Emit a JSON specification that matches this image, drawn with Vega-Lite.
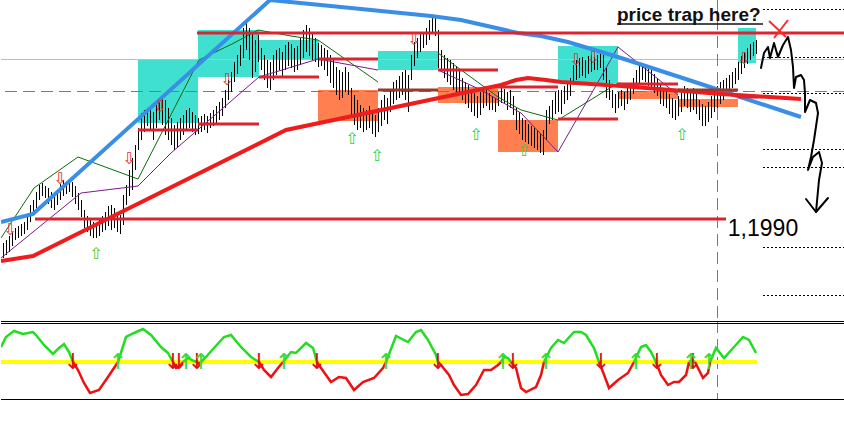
{
"$schema":"https://vega.github.io/schema/vega-lite/v6.json",
"background":"white",
"padding":0,
"spacing":1,
"config":{"view":{"stroke":null},"axis":{"disable":true},"legend":{"disable":true}},
"resolve":{"scale":{"x":"independent","y":"independent","color":"independent"}},
"datasets":{
"bars":[
{"t":2,"h":1.1966,"l":1.1951},{"t":5,"h":1.1969,"l":1.1954},{"t":8,"h":1.1973,"l":1.1957},{"t":11,"h":1.1977,"l":1.1963},{"t":14,"h":1.1981,"l":1.1969},{"t":17,"h":1.1983,"l":1.1971},{"t":20,"h":1.1985,"l":1.1973},{"t":23,"h":1.1987,"l":1.1975},{"t":26,"h":1.1994,"l":1.1979},{"t":29,"h":1.2004,"l":1.1987},
{"t":32,"h":1.2009,"l":1.1995},{"t":35,"h":1.2017,"l":1.2001},{"t":38,"h":1.2024,"l":1.2009},{"t":41,"h":1.2026,"l":1.2013},{"t":44,"h":1.2023,"l":1.2011},{"t":47,"h":1.2021,"l":1.2005},{"t":50,"h":1.2017,"l":1.2001},{"t":53,"h":1.2014,"l":1.1999},{"t":56,"h":1.2019,"l":1.2004},{"t":59,"h":1.2025,"l":1.2009},
{"t":62,"h":1.2029,"l":1.2013},{"t":65,"h":1.2027,"l":1.2015},{"t":68,"h":1.2029,"l":1.2017},{"t":71,"h":1.2027,"l":1.2012},{"t":74,"h":1.2023,"l":1.2005},{"t":77,"h":1.2016,"l":1.1999},{"t":80,"h":1.2009,"l":1.1992},{"t":83,"h":1.1999,"l":1.1981},{"t":86,"h":1.1993,"l":1.1977},{"t":89,"h":1.1989,"l":1.1973},
{"t":92,"h":1.1987,"l":1.1971},{"t":95,"h":1.1985,"l":1.1971},{"t":98,"h":1.1989,"l":1.1973},{"t":101,"h":1.1993,"l":1.1977},{"t":104,"h":1.1997,"l":1.1979},{"t":107,"h":1.2003,"l":1.1983},{"t":110,"h":1.2004,"l":1.1979},{"t":113,"h":1.2001,"l":1.1981},{"t":116,"h":1.1997,"l":1.1977},{"t":119,"h":1.1994,"l":1.1975},
{"t":122,"h":1.2014,"l":1.1984},{"t":125,"h":1.2024,"l":1.2004},{"t":128,"h":1.2039,"l":1.2013},{"t":131,"h":1.2051,"l":1.2019},{"t":134,"h":1.2064,"l":1.2039},{"t":137,"h":1.2081,"l":1.2059},{"t":140,"h":1.2096,"l":1.2069},{"t":143,"h":1.2099,"l":1.2077},{"t":146,"h":1.2101,"l":1.2083},{"t":149,"h":1.2103,"l":1.2079},
{"t":152,"h":1.2097,"l":1.2069},{"t":155,"h":1.2104,"l":1.2081},{"t":158,"h":1.2109,"l":1.2089},{"t":161,"h":1.2111,"l":1.2084},{"t":164,"h":1.2109,"l":1.2074},{"t":167,"h":1.2101,"l":1.2069},{"t":170,"h":1.2091,"l":1.2064},{"t":173,"h":1.2084,"l":1.2059},{"t":176,"h":1.2087,"l":1.2061},{"t":179,"h":1.2091,"l":1.2069},
{"t":182,"h":1.2094,"l":1.2074},{"t":185,"h":1.2099,"l":1.2079},{"t":188,"h":1.2101,"l":1.2081},{"t":191,"h":1.2097,"l":1.2077},{"t":194,"h":1.2094,"l":1.2074},{"t":197,"h":1.2091,"l":1.2075},{"t":200,"h":1.2093,"l":1.2077},{"t":203,"h":1.2095,"l":1.2079},{"t":206,"h":1.2093,"l":1.2076},{"t":209,"h":1.2096,"l":1.2081},
{"t":212,"h":1.2099,"l":1.2083},{"t":215,"h":1.2103,"l":1.2085},{"t":218,"h":1.2107,"l":1.2089},{"t":221,"h":1.2111,"l":1.2093},{"t":224,"h":1.2119,"l":1.2101},{"t":227,"h":1.2129,"l":1.2109},{"t":230,"h":1.2137,"l":1.2117},{"t":233,"h":1.2147,"l":1.2127},{"t":236,"h":1.2154,"l":1.2135},{"t":239,"h":1.2164,"l":1.2143},
{"t":242,"h":1.2181,"l":1.2151},{"t":245,"h":1.2189,"l":1.2159},{"t":248,"h":1.2181,"l":1.2149},{"t":251,"h":1.2176,"l":1.2131},{"t":254,"h":1.2169,"l":1.2137},{"t":257,"h":1.2174,"l":1.2147},{"t":260,"h":1.2161,"l":1.2139},{"t":263,"h":1.2154,"l":1.2129},{"t":266,"h":1.2149,"l":1.2121},{"t":269,"h":1.2147,"l":1.2119},
{"t":272,"h":1.2154,"l":1.2129},{"t":275,"h":1.2159,"l":1.2134},{"t":278,"h":1.2161,"l":1.2139},{"t":281,"h":1.2157,"l":1.2133},{"t":284,"h":1.2164,"l":1.2139},{"t":287,"h":1.2167,"l":1.2143},{"t":290,"h":1.2165,"l":1.2141},{"t":293,"h":1.2161,"l":1.2137},{"t":296,"h":1.2163,"l":1.2139},{"t":299,"h":1.2171,"l":1.2144},
{"t":302,"h":1.2179,"l":1.2151},{"t":305,"h":1.2184,"l":1.2157},{"t":308,"h":1.2181,"l":1.2153},{"t":311,"h":1.2177,"l":1.2149},{"t":314,"h":1.2171,"l":1.2147},{"t":317,"h":1.2166,"l":1.2142},{"t":320,"h":1.2164,"l":1.2143},{"t":323,"h":1.2161,"l":1.2139},{"t":326,"h":1.2159,"l":1.2133},{"t":329,"h":1.2154,"l":1.2126},
{"t":332,"h":1.2149,"l":1.2121},{"t":335,"h":1.2142,"l":1.2114},{"t":338,"h":1.2139,"l":1.2109},{"t":341,"h":1.2137,"l":1.2111},{"t":344,"h":1.2142,"l":1.2117},{"t":347,"h":1.2137,"l":1.2114},{"t":350,"h":1.2121,"l":1.2094},{"t":353,"h":1.2114,"l":1.2084},{"t":356,"h":1.2109,"l":1.2079},{"t":359,"h":1.2104,"l":1.2081},
{"t":362,"h":1.2101,"l":1.2077},{"t":365,"h":1.2099,"l":1.2079},{"t":368,"h":1.2103,"l":1.2081},{"t":371,"h":1.2097,"l":1.2075},{"t":374,"h":1.2094,"l":1.2072},{"t":377,"h":1.2101,"l":1.2077},{"t":380,"h":1.2109,"l":1.2083},{"t":383,"h":1.2114,"l":1.2089},{"t":386,"h":1.2111,"l":1.2085},{"t":389,"h":1.2119,"l":1.2097},
{"t":392,"h":1.2127,"l":1.2105},{"t":395,"h":1.2129,"l":1.2109},{"t":398,"h":1.2133,"l":1.2111},{"t":401,"h":1.2137,"l":1.2114},{"t":404,"h":1.2139,"l":1.2109},{"t":407,"h":1.2134,"l":1.2097},{"t":410,"h":1.2154,"l":1.2129},{"t":413,"h":1.2167,"l":1.2143},{"t":416,"h":1.2171,"l":1.2151},{"t":419,"h":1.2175,"l":1.2157},
{"t":422,"h":1.2177,"l":1.2161},{"t":425,"h":1.2181,"l":1.2164},{"t":428,"h":1.2189,"l":1.2169},{"t":431,"h":1.2194,"l":1.2177},{"t":434,"h":1.2191,"l":1.2173},{"t":437,"h":1.2179,"l":1.2141},{"t":440,"h":1.2159,"l":1.2137},{"t":443,"h":1.2154,"l":1.2131},{"t":446,"h":1.2151,"l":1.2127},{"t":449,"h":1.2149,"l":1.2124},
{"t":452,"h":1.2146,"l":1.2119},{"t":455,"h":1.2143,"l":1.2117},{"t":458,"h":1.2139,"l":1.2114},{"t":461,"h":1.2131,"l":1.2109},{"t":464,"h":1.2127,"l":1.2105},{"t":467,"h":1.2124,"l":1.2101},{"t":470,"h":1.2119,"l":1.2097},{"t":473,"h":1.2116,"l":1.2093},{"t":476,"h":1.2113,"l":1.2091},{"t":479,"h":1.2117,"l":1.2094},
{"t":482,"h":1.2121,"l":1.2101},{"t":485,"h":1.2119,"l":1.2103},{"t":488,"h":1.2116,"l":1.2099},{"t":491,"h":1.2113,"l":1.2099},{"t":494,"h":1.2111,"l":1.2097},{"t":497,"h":1.2117,"l":1.2103},{"t":500,"h":1.2121,"l":1.2106},{"t":503,"h":1.2120,"l":1.2105},{"t":506,"h":1.2117,"l":1.2099},{"t":509,"h":1.2119,"l":1.2101},
{"t":512,"h":1.2113,"l":1.2094},{"t":515,"h":1.2101,"l":1.2079},{"t":518,"h":1.2097,"l":1.2075},{"t":521,"h":1.2091,"l":1.2069},{"t":524,"h":1.2089,"l":1.2067},{"t":527,"h":1.2085,"l":1.2065},{"t":530,"h":1.2083,"l":1.2063},{"t":533,"h":1.2081,"l":1.2061},{"t":536,"h":1.2079,"l":1.2059},{"t":539,"h":1.2075,"l":1.2056},
{"t":542,"h":1.2079,"l":1.2054},{"t":545,"h":1.2099,"l":1.2069},{"t":548,"h":1.2103,"l":1.2085},{"t":551,"h":1.2109,"l":1.2089},{"t":554,"h":1.2117,"l":1.2095},{"t":557,"h":1.2119,"l":1.2097},{"t":560,"h":1.2119,"l":1.2095},{"t":563,"h":1.2123,"l":1.2105},{"t":566,"h":1.2125,"l":1.2109},{"t":569,"h":1.2131,"l":1.2113},
{"t":572,"h":1.2144,"l":1.2124},{"t":575,"h":1.2149,"l":1.2129},{"t":578,"h":1.2151,"l":1.2131},{"t":581,"h":1.2152,"l":1.2133},{"t":584,"h":1.2149,"l":1.2131},{"t":587,"h":1.2153,"l":1.2135},{"t":590,"h":1.2154,"l":1.2137},{"t":593,"h":1.2152,"l":1.2139},{"t":596,"h":1.2154,"l":1.2139},{"t":599,"h":1.2156,"l":1.2141},
{"t":602,"h":1.2154,"l":1.2129},{"t":605,"h":1.2141,"l":1.2111},{"t":608,"h":1.2129,"l":1.2109},{"t":611,"h":1.2119,"l":1.2101},{"t":614,"h":1.2115,"l":1.2096},{"t":617,"h":1.2117,"l":1.2101},{"t":620,"h":1.2119,"l":1.2103},{"t":623,"h":1.2117,"l":1.2099},{"t":626,"h":1.2121,"l":1.2105},{"t":629,"h":1.2125,"l":1.2109},
{"t":632,"h":1.2131,"l":1.2115},{"t":635,"h":1.2139,"l":1.2121},{"t":638,"h":1.2143,"l":1.2125},{"t":641,"h":1.2146,"l":1.2129},{"t":644,"h":1.2145,"l":1.2127},{"t":647,"h":1.2141,"l":1.2123},{"t":650,"h":1.2139,"l":1.2119},{"t":653,"h":1.2135,"l":1.2116},{"t":656,"h":1.2131,"l":1.2113},{"t":659,"h":1.2125,"l":1.2105},
{"t":662,"h":1.2121,"l":1.2103},{"t":665,"h":1.2119,"l":1.2101},{"t":668,"h":1.2115,"l":1.2095},{"t":671,"h":1.2111,"l":1.2091},{"t":674,"h":1.2109,"l":1.2089},{"t":677,"h":1.2113,"l":1.2093},{"t":680,"h":1.2119,"l":1.2097},{"t":683,"h":1.2123,"l":1.2103},{"t":686,"h":1.2121,"l":1.2101},{"t":689,"h":1.2119,"l":1.2097},
{"t":692,"h":1.2121,"l":1.2099},{"t":695,"h":1.2117,"l":1.2095},{"t":698,"h":1.2109,"l":1.2089},{"t":701,"h":1.2105,"l":1.2083},{"t":704,"h":1.2103,"l":1.2083},{"t":707,"h":1.2107,"l":1.2087},{"t":710,"h":1.2113,"l":1.2091},{"t":713,"h":1.2119,"l":1.2097},{"t":716,"h":1.2123,"l":1.2101},{"t":719,"h":1.2127,"l":1.2105},
{"t":722,"h":1.2129,"l":1.2109},{"t":725,"h":1.2131,"l":1.2113},{"t":728,"h":1.2134,"l":1.2117},{"t":731,"h":1.2137,"l":1.2121},{"t":734,"h":1.2141,"l":1.2125},{"t":737,"h":1.2147,"l":1.2129},{"t":740,"h":1.2153,"l":1.2135},{"t":743,"h":1.2157,"l":1.2141},{"t":746,"h":1.2161,"l":1.2145},{"t":749,"h":1.2165,"l":1.2149},
{"t":752,"h":1.2167,"l":1.2153},{"t":755,"h":1.2169,"l":1.2155}
],
"cyan":[{"t1":137,"t2":197,"p1":1.2150,"p2":1.2086},{"t1":197,"t2":258,"p1":1.2179,"p2":1.2132},{"t1":258,"t2":318,"p1":1.2169,"p2":1.2150},{"t1":377,"t2":437,"p1":1.2158,"p2":1.2139},{"t1":557,"t2":617,"p1":1.2163,"p2":1.2126},{"t1":737,"t2":755,"p1":1.2181,"p2":1.2146}],
"orange":[{"t1":317,"t2":377,"p1":1.2119,"p2":1.2088},{"t1":437,"t2":497,"p1":1.2122,"p2":1.2106},{"t1":497,"t2":557,"p1":1.2089,"p2":1.2057},{"t1":617,"t2":677,"p1":1.2118,"p2":1.2110},{"t1":677,"t2":737,"p1":1.2110,"p2":1.2102}],
"dots":[{"t1":762,"t2":844,"p":1.2200},{"t1":762,"t2":844,"p":1.2152},{"t1":762,"t2":844,"p":1.2116},{"t1":762,"t2":844,"p":1.2060},{"t1":762,"t2":844,"p":1.2042},{"t1":762,"t2":844,"p":1.1962},{"t1":762,"t2":844,"p":1.1914}],
"vline":[{"t":716}],
"redshort":[{"t1":137,"t2":197,"p":1.2079},{"t1":197,"t2":258,"p":1.2085},{"t1":258,"t2":318,"p":1.2132},{"t1":318,"t2":377,"p":1.2150},{"t1":437,"t2":497,"p":1.2139},{"t1":497,"t2":557,"p":1.2122},{"t1":557,"t2":617,"p":1.2090},{"t1":617,"t2":677,"p":1.2125},{"t1":737,"t2":757,"p":1.2112}],
"brown":[{"t1":377,"t2":437,"p":1.2119},{"t1":677,"t2":737,"p":1.2119}],
"redlong":[{"t1":196,"t2":844,"p":1.2176},{"t1":34,"t2":725,"p":1.1990}],
"trend":[{"t":0,"p":1.1948},{"t":32,"p":1.1953},{"t":285,"p":1.2079},{"t":500,"p":1.2124},{"t":515,"p":1.2129},{"t":527,"p":1.2131},{"t":545,"p":1.2129},{"t":560,"p":1.2127},{"t":620,"p":1.2123},{"t":720,"p":1.2115},{"t":800,"p":1.2110}],
"blue":[{"t":0,"p":1.1987},{"t":32,"p":1.1995},{"t":269,"p":1.2209},{"t":350,"p":1.2201},{"t":430,"p":1.2193},{"t":460,"p":1.2189},{"t":517,"p":1.2176},{"t":540,"p":1.2173},{"t":567,"p":1.2167},{"t":617,"p":1.2152},{"t":700,"p":1.2125},{"t":800,"p":1.2092}],
"green":[{"s":1,"t":0,"p":1.1971},{"s":1,"t":33,"p":1.2021},{"s":1,"t":77,"p":1.2052},{"s":1,"t":137,"p":1.2030},{"s":1,"t":157,"p":1.2069},{"s":1,"t":198,"p":1.2149},{"s":1,"t":233,"p":1.2166},{"s":1,"t":257,"p":1.2179},{"s":1,"t":290,"p":1.2173},{"s":1,"t":317,"p":1.2169},{"s":1,"t":377,"p":1.2127},
{"s":2,"t":437,"p":1.2156},{"s":2,"t":497,"p":1.2112},{"s":2,"t":520,"p":1.2099},{"s":2,"t":557,"p":1.2089},{"s":2,"t":617,"p":1.2126},{"s":2,"t":677,"p":1.2117}],
"purple":[{"s":1,"t":0,"p":1.1951},{"s":1,"t":80,"p":1.2016},{"s":1,"t":137,"p":1.2023},{"s":1,"t":170,"p":1.2056},{"s":1,"t":258,"p":1.2132},{"s":1,"t":317,"p":1.2150},{"s":1,"t":377,"p":1.2139},
{"s":2,"t":437,"p":1.2139},{"s":2,"t":480,"p":1.2119},{"s":2,"t":520,"p":1.2096},{"s":2,"t":557,"p":1.2057},{"s":2,"t":617,"p":1.2162},{"s":2,"t":677,"p":1.2114}],
"downArrows":[{"t":9,"p":1.1979},{"t":59,"p":1.2030},{"t":128,"p":1.2050},{"t":159,"p":1.2102},{"t":226,"p":1.2129},{"t":413,"p":1.2169},{"t":575,"p":1.2149},{"t":592,"p":1.2151},{"t":743,"p":1.2150}],
"upArrows":[{"t":95,"p":1.1955},{"t":351,"p":1.2070},{"t":376,"p":1.2053},{"t":475,"p":1.2074},{"t":523,"p":1.2058},{"t":681,"p":1.2074}],
"hand":[{"s":1,"o":1,"t":760,"p":1.2141},{"s":1,"o":2,"t":763,"p":1.2156},{"s":1,"o":3,"t":767,"p":1.2162},{"s":1,"o":4,"t":769,"p":1.2151},{"s":1,"o":5,"t":773,"p":1.2166},{"s":1,"o":6,"t":777,"p":1.2152},{"s":1,"o":7,"t":782,"p":1.2164},{"s":1,"o":8,"t":787,"p":1.2172},{"s":1,"o":9,"t":790,"p":1.2159},{"s":1,"o":10,"t":792,"p":1.2142},{"s":1,"o":11,"t":793,"p":1.2121},{"s":1,"o":12,"t":795,"p":1.2132},{"s":1,"o":13,"t":800,"p":1.2134},{"s":1,"o":14,"t":803,"p":1.2129},{"s":1,"o":15,"t":804,"p":1.2116},{"s":1,"o":16,"t":804,"p":1.2097},{"s":1,"o":17,"t":809,"p":1.2109},{"s":1,"o":18,"t":815,"p":1.2106},{"s":1,"o":19,"t":817,"p":1.2096},{"s":1,"o":20,"t":813,"p":1.2069},{"s":1,"o":21,"t":810,"p":1.2052},{"s":1,"o":22,"t":807,"p":1.2039},{"s":1,"o":23,"t":812,"p":1.2052},{"s":1,"o":24,"t":818,"p":1.2057},{"s":1,"o":25,"t":821,"p":1.2046},{"s":1,"o":26,"t":818,"p":1.2029},{"s":1,"o":27,"t":815,"p":1.1997},
{"s":2,"o":1,"t":805,"p":1.2010},{"s":2,"o":2,"t":815,"p":1.1997},{"s":2,"o":3,"t":827,"p":1.2011}],
"xmark":[{"t1":768,"p1":1.2188,"t2":785,"p2":1.2172},{"t1":787,"p1":1.2189,"t2":773,"p2":1.2171}],
"underline":[{"t1":616,"t2":762,"p":1.2185}],
"title":[{"t":616,"p":1.2188,"label":"price trap here?"}],
"note":[{"t":762,"p":1.1980,"label":"1,1990"}],
"frame":[{"v":41},{"v":39},{"v":-37}],
"zero":[{"t1":0,"t2":756,"v":0}],
"osc":[
{"s":1,"z":"up","t":0,"v":15},{"s":1,"z":"up","t":5,"v":25},{"s":1,"z":"up","t":13,"v":31},{"s":1,"z":"up","t":22,"v":28},{"s":1,"z":"up","t":32,"v":30},{"s":1,"z":"up","t":35,"v":27},{"s":1,"z":"up","t":43,"v":17},{"s":1,"z":"up","t":52,"v":8},{"s":1,"z":"up","t":58,"v":14},{"s":1,"z":"up","t":63,"v":18},{"s":1,"z":"up","t":68,"v":10},{"s":1,"z":"up","t":72,"v":0},
{"s":2,"z":"dn","t":72,"v":0},{"s":2,"z":"dn","t":77,"v":-8},{"s":2,"z":"dn","t":83,"v":-21},{"s":2,"z":"dn","t":89,"v":-31},{"s":2,"z":"dn","t":98,"v":-28},{"s":2,"z":"dn","t":107,"v":-15},{"s":2,"z":"dn","t":115,"v":-3},{"s":2,"z":"dn","t":117,"v":0},
{"s":3,"z":"up","t":117,"v":0},{"s":3,"z":"up","t":125,"v":25},{"s":3,"z":"up","t":133,"v":29},{"s":3,"z":"up","t":142,"v":33},{"s":3,"z":"up","t":150,"v":27},{"s":3,"z":"up","t":160,"v":15},{"s":3,"z":"up","t":167,"v":9},{"s":3,"z":"up","t":172,"v":0},
{"s":4,"z":"dn","t":172,"v":0},{"s":4,"z":"dn","t":175,"v":-6},{"s":4,"z":"dn","t":178,"v":-5},{"s":4,"z":"dn","t":182,"v":0},
{"s":5,"z":"up","t":182,"v":0},{"s":5,"z":"up","t":187,"v":4},{"s":5,"z":"up","t":193,"v":1},{"s":5,"z":"up","t":196,"v":0},
{"s":6,"z":"dn","t":196,"v":0},{"s":6,"z":"dn","t":198,"v":-2},{"s":6,"z":"dn","t":200,"v":0},
{"s":7,"z":"up","t":200,"v":0},{"s":7,"z":"up","t":205,"v":5},{"s":7,"z":"up","t":213,"v":14},{"s":7,"z":"up","t":223,"v":25},{"s":7,"z":"up","t":230,"v":27},{"s":7,"z":"up","t":240,"v":15},{"s":7,"z":"up","t":250,"v":5},{"s":7,"z":"up","t":258,"v":0},
{"s":8,"z":"dn","t":258,"v":0},{"s":8,"z":"dn","t":263,"v":-8},{"s":8,"z":"dn","t":270,"v":-15},{"s":8,"z":"dn","t":277,"v":-6},{"s":8,"z":"dn","t":282,"v":0},
{"s":9,"z":"up","t":282,"v":0},{"s":9,"z":"up","t":290,"v":10},{"s":9,"z":"up","t":295,"v":9},{"s":9,"z":"up","t":305,"v":19},{"s":9,"z":"up","t":312,"v":14},{"s":9,"z":"up","t":316,"v":0},
{"s":10,"z":"dn","t":316,"v":0},{"s":10,"z":"dn","t":320,"v":-6},{"s":10,"z":"dn","t":330,"v":-20},{"s":10,"z":"dn","t":338,"v":-15},{"s":10,"z":"dn","t":345,"v":-16},{"s":10,"z":"dn","t":353,"v":-28},{"s":10,"z":"dn","t":362,"v":-20},{"s":10,"z":"dn","t":373,"v":-16},{"s":10,"z":"dn","t":382,"v":-6},{"s":10,"z":"dn","t":385,"v":0},
{"s":11,"z":"up","t":385,"v":0},{"s":11,"z":"up","t":395,"v":26},{"s":11,"z":"up","t":407,"v":20},{"s":11,"z":"up","t":415,"v":30},{"s":11,"z":"up","t":420,"v":32},{"s":11,"z":"up","t":427,"v":22},{"s":11,"z":"up","t":435,"v":7},{"s":11,"z":"up","t":437,"v":0},
{"s":12,"z":"dn","t":437,"v":0},{"s":12,"z":"dn","t":440,"v":-3},{"s":12,"z":"dn","t":448,"v":-13},{"s":12,"z":"dn","t":453,"v":-23},{"s":12,"z":"dn","t":460,"v":-33},{"s":12,"z":"dn","t":467,"v":-32},{"s":12,"z":"dn","t":475,"v":-23},{"s":12,"z":"dn","t":483,"v":-8},{"s":12,"z":"dn","t":490,"v":-8},{"s":12,"z":"dn","t":497,"v":-3},{"s":12,"z":"dn","t":500,"v":0},
{"s":13,"z":"up","t":500,"v":0},{"s":13,"z":"up","t":503,"v":5},{"s":13,"z":"up","t":507,"v":4},{"s":13,"z":"up","t":510,"v":0},
{"s":14,"z":"dn","t":510,"v":0},{"s":14,"z":"dn","t":515,"v":-6},{"s":14,"z":"dn","t":520,"v":-26},{"s":14,"z":"dn","t":525,"v":-30},{"s":14,"z":"dn","t":535,"v":-25},{"s":14,"z":"dn","t":540,"v":-13},{"s":14,"z":"dn","t":543,"v":0},
{"s":15,"z":"up","t":543,"v":0},{"s":15,"z":"up","t":550,"v":14},{"s":15,"z":"up","t":557,"v":22},{"s":15,"z":"up","t":563,"v":19},{"s":15,"z":"up","t":573,"v":30},{"s":15,"z":"up","t":580,"v":30},{"s":15,"z":"up","t":585,"v":27},{"s":15,"z":"up","t":593,"v":14},{"s":15,"z":"up","t":598,"v":0},
{"s":16,"z":"dn","t":598,"v":0},{"s":16,"z":"dn","t":602,"v":-10},{"s":16,"z":"dn","t":608,"v":-26},{"s":16,"z":"dn","t":617,"v":-18},{"s":16,"z":"dn","t":627,"v":-11},{"s":16,"z":"dn","t":633,"v":0},
{"s":17,"z":"up","t":633,"v":0},{"s":17,"z":"up","t":640,"v":15},{"s":17,"z":"up","t":645,"v":17},{"s":17,"z":"up","t":650,"v":10},{"s":17,"z":"up","t":655,"v":0},
{"s":18,"z":"dn","t":655,"v":0},{"s":18,"z":"dn","t":660,"v":-13},{"s":18,"z":"dn","t":667,"v":-23},{"s":18,"z":"dn","t":673,"v":-20},{"s":18,"z":"dn","t":678,"v":-20},{"s":18,"z":"dn","t":685,"v":-13},{"s":18,"z":"dn","t":688,"v":0},
{"s":19,"z":"up","t":688,"v":0},{"s":19,"z":"up","t":691,"v":2},{"s":19,"z":"up","t":694,"v":0},
{"s":20,"z":"dn","t":694,"v":0},{"s":20,"z":"dn","t":697,"v":-6},{"s":20,"z":"dn","t":702,"v":-16},{"s":20,"z":"dn","t":707,"v":-11},{"s":20,"z":"dn","t":709,"v":0},
{"s":21,"z":"up","t":709,"v":0},{"s":21,"z":"up","t":715,"v":14},{"s":21,"z":"up","t":723,"v":4},{"s":21,"z":"up","t":733,"v":15},{"s":21,"z":"up","t":742,"v":25},{"s":21,"z":"up","t":748,"v":22},{"s":21,"z":"up","t":755,"v":9}
],
"oscDown":[{"t":72,"v":0},{"t":172,"v":0},{"t":178,"v":0},{"t":196,"v":0},{"t":258,"v":0},{"t":316,"v":0},{"t":437,"v":0},{"t":512,"v":0},{"t":600,"v":0},{"t":656,"v":0},{"t":692,"v":0}],
"oscUp":[{"t":117,"v":0},{"t":185,"v":0},{"t":200,"v":0},{"t":283,"v":0},{"t":385,"v":0},{"t":502,"v":0},{"t":545,"v":0},{"t":635,"v":0},{"t":690,"v":0},{"t":708,"v":0}]
},
"vconcat":[
{"width":844,"height":320,
"layer":[
{"data":{"name":"cyan"},"mark":{"type":"rect","color":"#40E0D0","clip":true},"encoding":{"x":{"field":"t1","type":"quantitative","scale":{"domain":[0,844],"nice":false,"zero":false}},"x2":{"field":"t2"},"y":{"field":"p1","type":"quantitative","scale":{"domain":[1.1889,1.2209],"nice":false,"zero":false}},"y2":{"field":"p2"}}},
{"data":{"name":"orange"},"mark":{"type":"rect","color":"#FF7F50","clip":true},"encoding":{"x":{"field":"t1","type":"quantitative","scale":{"domain":[0,844],"nice":false,"zero":false}},"x2":{"field":"t2"},"y":{"field":"p1","type":"quantitative","scale":{"domain":[1.1889,1.2209],"nice":false,"zero":false}},"y2":{"field":"p2"}}},
{"data":{"values":[{"p":1.2150}]},"mark":{"type":"rule","color":"#bdbdbd","strokeWidth":1,"yOffset":0.5,"clip":true},"encoding":{"y":{"field":"p","type":"quantitative","scale":{"domain":[1.1889,1.2209],"nice":false,"zero":false}}}},
{"data":{"values":[{"p":1.2118}]},"mark":{"type":"rule","color":"#3d9a72","strokeWidth":1,"yOffset":0.5,"strokeDash":[12,6],"clip":true},"encoding":{"y":{"field":"p","type":"quantitative","scale":{"domain":[1.1889,1.2209],"nice":false,"zero":false}}}},
{"data":{"name":"dots"},"mark":{"type":"rule","color":"#000000","strokeWidth":1,"yOffset":0.5,"strokeDash":[2,2],"clip":true},"encoding":{"x":{"field":"t1","type":"quantitative","scale":{"domain":[0,844],"nice":false,"zero":false}},"x2":{"field":"t2"},"y":{"field":"p","type":"quantitative","scale":{"domain":[1.1889,1.2209],"nice":false,"zero":false}}}},
{"data":{"name":"vline"},"mark":{"type":"rule","color":"#3a9a86","strokeWidth":1,"xOffset":0.5,"strokeDash":[12,6],"clip":true},"encoding":{"x":{"field":"t","type":"quantitative","scale":{"domain":[0,844],"nice":false,"zero":false}}}},
{"data":{"name":"bars"},"mark":{"type":"rule","color":"#000000","strokeWidth":1,"xOffset":0.5,"clip":true},"encoding":{"x":{"field":"t","type":"quantitative","scale":{"domain":[0,844],"nice":false,"zero":false}},"y":{"field":"h","type":"quantitative","scale":{"domain":[1.1889,1.2209],"nice":false,"zero":false}},"y2":{"field":"l"}}},
{"data":{"name":"green"},"mark":{"type":"line","color":"#0d6b0d","strokeWidth":1,"clip":true},"encoding":{"x":{"field":"t","type":"quantitative","scale":{"domain":[0,844],"nice":false,"zero":false}},"y":{"field":"p","type":"quantitative","scale":{"domain":[1.1889,1.2209],"nice":false,"zero":false}},"detail":{"field":"s"}}},
{"data":{"name":"purple"},"mark":{"type":"line","color":"#7d1a8c","strokeWidth":1,"clip":true},"encoding":{"x":{"field":"t","type":"quantitative","scale":{"domain":[0,844],"nice":false,"zero":false}},"y":{"field":"p","type":"quantitative","scale":{"domain":[1.1889,1.2209],"nice":false,"zero":false}},"detail":{"field":"s"}}},
{"data":{"name":"blue"},"mark":{"type":"line","color":"#3a8ee8","strokeWidth":4,"clip":true},"encoding":{"x":{"field":"t","type":"quantitative","scale":{"domain":[0,844],"nice":false,"zero":false}},"y":{"field":"p","type":"quantitative","scale":{"domain":[1.1889,1.2209],"nice":false,"zero":false}}}},
{"data":{"name":"trend"},"mark":{"type":"line","color":"#ee1c1c","strokeWidth":4,"clip":true},"encoding":{"x":{"field":"t","type":"quantitative","scale":{"domain":[0,844],"nice":false,"zero":false}},"y":{"field":"p","type":"quantitative","scale":{"domain":[1.1889,1.2209],"nice":false,"zero":false}}}},
{"data":{"name":"redlong"},"mark":{"type":"rule","color":"#dc2430","strokeWidth":3,"clip":true},"encoding":{"x":{"field":"t1","type":"quantitative","scale":{"domain":[0,844],"nice":false,"zero":false}},"x2":{"field":"t2"},"y":{"field":"p","type":"quantitative","scale":{"domain":[1.1889,1.2209],"nice":false,"zero":false}}}},
{"data":{"name":"redshort"},"mark":{"type":"rule","color":"#dc2430","strokeWidth":3,"clip":true},"encoding":{"x":{"field":"t1","type":"quantitative","scale":{"domain":[0,844],"nice":false,"zero":false}},"x2":{"field":"t2"},"y":{"field":"p","type":"quantitative","scale":{"domain":[1.1889,1.2209],"nice":false,"zero":false}}}},
{"data":{"name":"brown"},"mark":{"type":"rule","color":"#9a3a2c","strokeWidth":3,"clip":true},"encoding":{"x":{"field":"t1","type":"quantitative","scale":{"domain":[0,844],"nice":false,"zero":false}},"x2":{"field":"t2"},"y":{"field":"p","type":"quantitative","scale":{"domain":[1.1889,1.2209],"nice":false,"zero":false}}}},
{"data":{"name":"downArrows"},"mark":{"type":"text","text":"⇩","font":"DejaVu Sans","fontSize":16,"color":"#e8302a","baseline":"middle","align":"center","clip":true},"encoding":{"x":{"field":"t","type":"quantitative","scale":{"domain":[0,844],"nice":false,"zero":false}},"y":{"field":"p","type":"quantitative","scale":{"domain":[1.1889,1.2209],"nice":false,"zero":false}}}},
{"data":{"name":"upArrows"},"mark":{"type":"text","text":"⇧","font":"DejaVu Sans","fontSize":16,"color":"#33cc33","baseline":"middle","align":"center","clip":true},"encoding":{"x":{"field":"t","type":"quantitative","scale":{"domain":[0,844],"nice":false,"zero":false}},"y":{"field":"p","type":"quantitative","scale":{"domain":[1.1889,1.2209],"nice":false,"zero":false}}}},
{"data":{"name":"hand"},"mark":{"type":"line","color":"#000000","strokeWidth":2,"strokeJoin":"round","strokeCap":"round","clip":true},"encoding":{"x":{"field":"t","type":"quantitative","scale":{"domain":[0,844],"nice":false,"zero":false}},"y":{"field":"p","type":"quantitative","scale":{"domain":[1.1889,1.2209],"nice":false,"zero":false}},"detail":{"field":"s"},"order":{"field":"o"}}},
{"data":{"name":"xmark"},"mark":{"type":"rule","color":"#ff2a2a","strokeWidth":2,"clip":true},"encoding":{"x":{"field":"t1","type":"quantitative","scale":{"domain":[0,844],"nice":false,"zero":false}},"x2":{"field":"t2"},"y":{"field":"p1","type":"quantitative","scale":{"domain":[1.1889,1.2209],"nice":false,"zero":false}},"y2":{"field":"p2"}}},
{"data":{"name":"underline"},"mark":{"type":"rule","color":"#111111","strokeWidth":1.5,"clip":true},"encoding":{"x":{"field":"t1","type":"quantitative","scale":{"domain":[0,844],"nice":false,"zero":false}},"x2":{"field":"t2"},"y":{"field":"p","type":"quantitative","scale":{"domain":[1.1889,1.2209],"nice":false,"zero":false}}}},
{"data":{"name":"title"},"mark":{"type":"text","font":"Liberation Sans","fontSize":19,"fontWeight":"bold","color":"#111111","align":"left","baseline":"alphabetic","clip":true},"encoding":{"x":{"field":"t","type":"quantitative","scale":{"domain":[0,844],"nice":false,"zero":false}},"y":{"field":"p","type":"quantitative","scale":{"domain":[1.1889,1.2209],"nice":false,"zero":false}},"text":{"field":"label"}}},
{"data":{"name":"note"},"mark":{"type":"text","font":"Liberation Sans","fontSize":23,"color":"#000000","align":"center","baseline":"middle","clip":true},"encoding":{"x":{"field":"t","type":"quantitative","scale":{"domain":[0,844],"nice":false,"zero":false}},"y":{"field":"p","type":"quantitative","scale":{"domain":[1.1889,1.2209],"nice":false,"zero":false}},"text":{"field":"label"}}}
]},
{"width":844,"height":79,
"layer":[
{"data":{"name":"vline"},"mark":{"type":"rule","color":"#3a9a86","strokeWidth":1,"xOffset":0.5,"strokeDash":[12,6],"clip":true},"encoding":{"x":{"field":"t","type":"quantitative","scale":{"domain":[0,844],"nice":false,"zero":false}}}},
{"data":{"name":"frame"},"mark":{"type":"rule","color":"#000000","strokeWidth":1,"yOffset":0.5},"encoding":{"y":{"field":"v","type":"quantitative","scale":{"domain":[-38,41],"nice":false,"zero":false}}}},
{"data":{"name":"zero"},"mark":{"type":"rule","color":"#ffff00","strokeWidth":4,"clip":true},"encoding":{"x":{"field":"t1","type":"quantitative","scale":{"domain":[0,844],"nice":false,"zero":false}},"x2":{"field":"t2"},"y":{"field":"v","type":"quantitative","scale":{"domain":[-38,41],"nice":false,"zero":false}}}},
{"data":{"name":"osc"},"mark":{"type":"line","strokeWidth":2.5,"clip":true},"encoding":{"x":{"field":"t","type":"quantitative","scale":{"domain":[0,844],"nice":false,"zero":false}},"y":{"field":"v","type":"quantitative","scale":{"domain":[-38,41],"nice":false,"zero":false}},"color":{"field":"z","type":"nominal","scale":{"domain":["up","dn"],"range":["#22dd22","#ee1111"]},"legend":null},"detail":{"field":"s"}}},
{"data":{"name":"oscDown"},"mark":{"type":"text","text":"↓","font":"DejaVu Sans","fontSize":22,"color":"#dd1111","baseline":"middle","align":"center","clip":true},"encoding":{"x":{"field":"t","type":"quantitative","scale":{"domain":[0,844],"nice":false,"zero":false}},"y":{"field":"v","type":"quantitative","scale":{"domain":[-38,41],"nice":false,"zero":false}}}},
{"data":{"name":"oscUp"},"mark":{"type":"text","text":"↑","font":"DejaVu Sans","fontSize":22,"color":"#33dd33","baseline":"middle","align":"center","clip":true},"encoding":{"x":{"field":"t","type":"quantitative","scale":{"domain":[0,844],"nice":false,"zero":false}},"y":{"field":"v","type":"quantitative","scale":{"domain":[-38,41],"nice":false,"zero":false}}}}
]}
]
}
